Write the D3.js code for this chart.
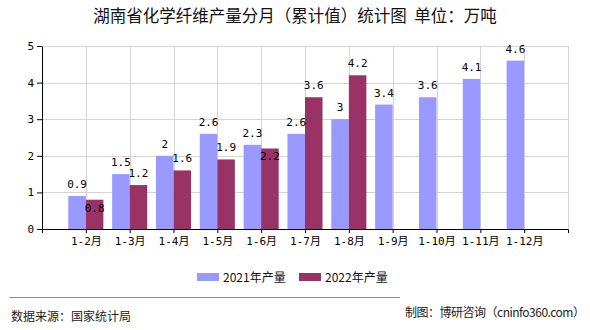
<!DOCTYPE html>
<html><head><meta charset="utf-8">
<script src="https://cdn.jsdelivr.net/npm/d3@7"></script>
<style>
body{margin:0;background:#fff;}
svg{display:block;}
</style></head>
<body>
<script>
const categories = ["1-2月","1-3月","1-4月","1-5月","1-6月","1-7月","1-8月","1-9月","1-10月","1-11月","1-12月"];
const values2021 = [0.9,1.5,2,2.6,2.3,2.6,3,3.4,3.6,4.1,4.6];
const values2022 = [0.8,1.2,1.6,1.9,2.2,3.6,4.2,null,null,null,null];
const seriesNames = ["2021年产量","2022年产量"];
const yTicks = [0,1,2,3,4,5];
const title = "湖南省化学纤维产量分月（累计值）统计图  单位：万吨";
const sourceText = "数据来源：国家统计局";
const creditText = "制图：博研咨询（cninfo360.com）";

(function(){
const W=590,H=330;
const colors=["#9999ff","#993366"];
const cjk = '"Microsoft YaHei","Noto Sans CJK SC",sans-serif';
const mono = '"DejaVu Sans Mono","Noto Sans CJK SC",monospace';
const svg=d3.select("body").append("svg").attr("width",W).attr("height",H);

const pl=42,pr=568,pt=46,pb=229;
const x=d3.scalePoint().domain(categories).range([pl,pr]).padding(1);
const y=d3.scaleLinear().domain([0,5]).range([pb,pt]);
const bw=x.step()*0.4;

// grid
const g=svg.append("g");
g.selectAll("line.h").data(yTicks.filter(d=>d>0)).enter().append("line")
 .attr("x1",pl).attr("x2",pr).attr("y1",d=>Math.round(y(d))+0.5).attr("y2",d=>Math.round(y(d))+0.5)
 .attr("stroke","#d4d4d4").attr("stroke-width",1);
g.selectAll("line.v").data(categories.map(c=>x(c)).concat([pr])).enter().append("line")
 .attr("x1",d=>Math.round(d)+0.5).attr("x2",d=>Math.round(d)+0.5).attr("y1",pt).attr("y2",pb)
 .attr("stroke","#d4d4d4").attr("stroke-width",1);

// bars
const data=categories.map((c,i)=>({c,a:values2021[i],b:values2022[i]}));
svg.selectAll("rect.a").data(data).enter().append("rect")
 .attr("x",d=>x(d.c)-bw).attr("width",bw).attr("y",d=>y(d.a)).attr("height",d=>pb-y(d.a))
 .attr("fill",colors[0]);
svg.selectAll("rect.b").data(data.filter(d=>d.b!=null)).enter().append("rect")
 .attr("x",d=>x(d.c)).attr("width",bw).attr("y",d=>y(d.b)).attr("height",d=>pb-y(d.b))
 .attr("fill",colors[1]);

// labels
svg.selectAll("text.la").data(data).enter().append("text")
 .attr("x",d=>x(d.c)-bw/2).attr("y",d=>y(d.a)-8)
 .attr("text-anchor","middle").attr("font-family",mono).attr("font-size",11).attr("fill","#000")
 .text(d=>d.a);
svg.selectAll("text.lb").data(data.filter(d=>d.b!=null)).enter().append("text")
 .attr("x",d=>x(d.c)+bw/2)
 .attr("y",d=>{const above=y(d.b)-8; const other=y(d.a)-8; return Math.abs(above-other)<9? y(d.b)+12: above;})
 .attr("text-anchor","middle").attr("font-family",mono).attr("font-size",11).attr("fill","#000")
 .text(d=>d.b);

// axes
const xa=svg.append("g").attr("transform",`translate(0,${pb})`)
 .call(d3.axisBottom(x).tickSize(4).tickSizeOuter(4).tickPadding(4));
xa.selectAll("text").attr("font-family",mono).attr("font-size",11).attr("fill","#000");
const ya=svg.append("g").attr("transform",`translate(${pl},0)`)
 .call(d3.axisLeft(y).tickValues(yTicks).tickFormat(d3.format("d")).tickSize(5).tickSizeOuter(0).tickPadding(3));
ya.selectAll("text").attr("font-family",mono).attr("font-size",11).attr("fill","#000");
svg.selectAll(".domain, .tick line").attr("stroke","#000");

// title
svg.append("text").attr("x",295).attr("y",22).attr("text-anchor","middle")
 .attr("font-family",cjk).attr("font-size",16.5).attr("fill","#111")
 .style("white-space","pre").text(title);

// legend
const lx=[197,299];
seriesNames.forEach((n,i)=>{
 svg.append("rect").attr("x",lx[i]).attr("y",273).attr("width",22).attr("height",8).attr("fill",colors[i]);
 svg.append("text").attr("x",lx[i]+26).attr("y",281.5).attr("font-family",cjk).attr("font-size",12)
  .attr("fill","#111").text(n);
});

// footer
svg.append("line").attr("x1",10).attr("x2",400).attr("y1",297.5).attr("y2",297.5).attr("stroke","#888");
svg.append("text").attr("x",11).attr("y",321).attr("font-family",cjk).attr("font-size",12).attr("fill","#222").text(sourceText);
svg.append("text").attr("x",405).attr("y",317).attr("font-family",cjk).attr("font-size",12).attr("fill","#222")
 .attr("textLength",180).attr("lengthAdjust","spacing").text(creditText);
})();
</script>
</body></html>
